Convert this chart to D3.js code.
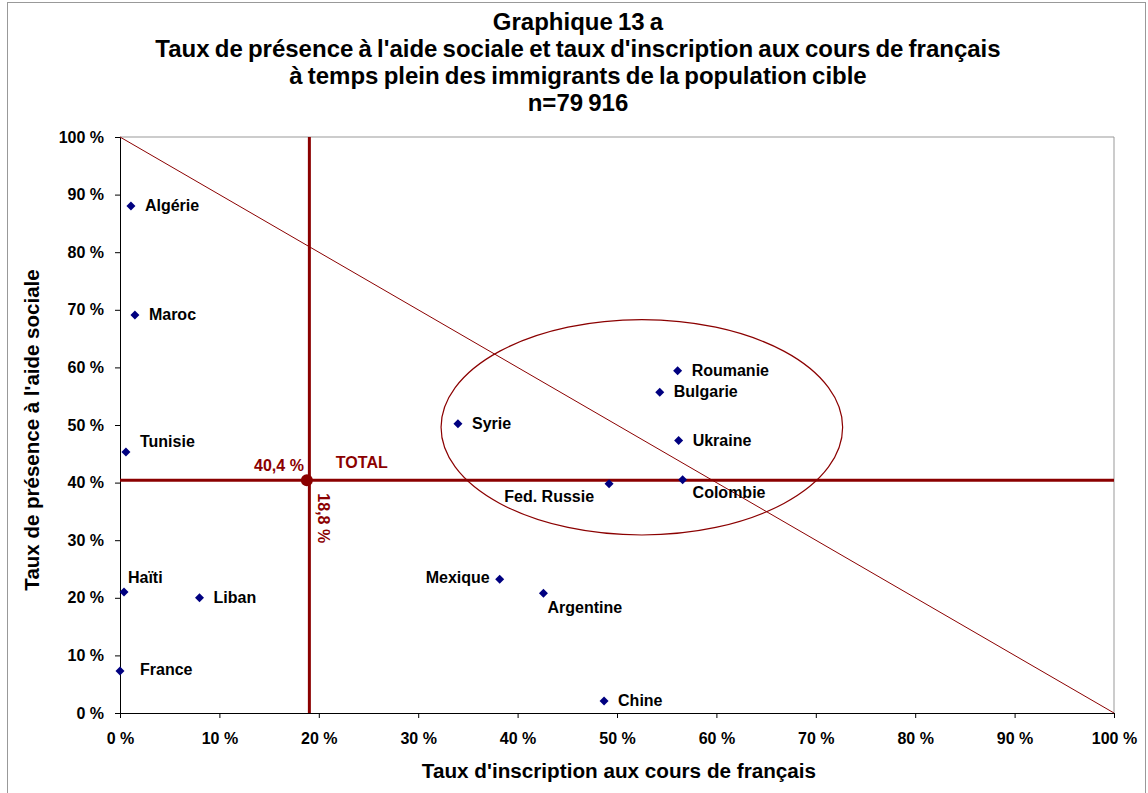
<!DOCTYPE html>
<html><head><meta charset="utf-8">
<script src="https://cdn.jsdelivr.net/npm/d3@7"></script>
<style>body{margin:0;background:#fff;}svg{display:block;font-family:"Liberation Sans",Arial,sans-serif;}</style>
</head><body>
<svg id="c" width="1148" height="793"></svg>
<script>
const countries = ["Algérie","Maroc","Tunisie","Haïti","Liban","France","Syrie","Roumanie","Bulgarie","Ukraine","Fed. Russie","Colombie","Mexique","Argentine","Chine"];
const inscription = [1.1,1.5,0.6,0.4,8.0,0.0,34.0,56.1,54.3,56.2,49.2,56.6,38.2,42.6,48.7];
const aideSociale = [88.0,69.1,45.3,21.0,20.0,7.3,50.2,59.4,55.7,47.3,39.8,40.5,23.2,20.8,2.1];
const labelPos = ["right","right","aboveRight","above","right","rightFar","right","right","right","right","belowLeft","belowRight","left","below","right"];
const totalX = 18.8, totalY = 40.4;
const xTicks = [0,10,20,30,40,50,60,70,80,90,100];
const yTicks = [0,10,20,30,40,50,60,70,80,90,100];
const titleLines = ["Graphique 13 a","Taux de présence à l'aide sociale et taux d'inscription aux cours de français","à temps plein des immigrants de la population cible","n=79 916"];
const ellipseSpec = {cx:52.5, cy:49.6, rx:20.2, ry:18.7};

const svg = d3.select("#c");
const red = "#8B0000", navy = "#000080";
const L=120,R=1114,T=137,B=713;
const x = d3.scaleLinear().domain([0,100]).range([L,R]);
const y = d3.scaleLinear().domain([0,100]).range([B,T]);

// outer border
svg.append("rect").attr("x",7.5).attr("y",2.5).attr("width",1138).attr("height",800).attr("fill","none").attr("stroke","#999");

// title
svg.append("g").selectAll("text").data(titleLines).join("text")
  .attr("x",578).attr("y",(d,i)=>30+i*27).attr("text-anchor","middle")
  .attr("font-size",24).attr("font-weight","bold").attr("word-spacing","-1.5")
  .text(d=>d);

// plot border top/right
svg.append("path").attr("d",`M${L},${T}H${R}V${B}`).attr("fill","none").attr("stroke","#999");

// axes
const fmt = d=>d+" %";
const xa = svg.append("g").attr("transform",`translate(0,${B})`)
  .call(d3.axisBottom(x).tickValues(xTicks).tickFormat(fmt).tickSize(5).tickSizeOuter(0));
const ya = svg.append("g").attr("transform",`translate(${L},0)`)
  .call(d3.axisLeft(y).tickValues(yTicks).tickFormat(fmt).tickSize(5).tickSizeOuter(0));
[xa,ya].forEach(a=>{a.select(".domain").attr("stroke","#000");a.selectAll(".tick line").attr("stroke","#000");
  a.selectAll("text").attr("font-size",16).attr("font-weight","bold").attr("fill","#000").attr("font-family","Liberation Sans, Arial, sans-serif");});
xa.selectAll("text").attr("y",20).attr("dy","0.71em");
ya.selectAll("text").attr("x",-16);

// axis titles
svg.append("text").attr("x",619).attr("y",778).attr("text-anchor","middle").attr("font-size",20.7).attr("font-weight","bold").text("Taux d'inscription aux cours de français");
svg.append("text").attr("transform",`translate(39,${(T+B)/2+5}) rotate(-90)`).attr("text-anchor","middle").attr("font-size",20.5).attr("font-weight","bold").text("Taux de présence à l'aide sociale");

// diagonal
svg.append("line").attr("x1",x(0)).attr("y1",y(100)).attr("x2",x(100)).attr("y2",y(0)).attr("stroke",red).attr("stroke-width",1);

// ellipse
svg.append("ellipse").attr("cx",x(ellipseSpec.cx)).attr("cy",y(ellipseSpec.cy))
  .attr("rx",x(ellipseSpec.rx)-x(0)).attr("ry",y(0)-y(ellipseSpec.ry))
  .attr("fill","none").attr("stroke",red).attr("stroke-width",1.2);

// total lines
svg.append("line").attr("x1",x(0)).attr("x2",x(100)).attr("y1",y(totalY)).attr("y2",y(totalY)).attr("stroke",red).attr("stroke-width",3);
svg.append("line").attr("x1",x(totalX)+2.5).attr("x2",x(totalX)+2.5).attr("y1",y(100)).attr("y2",y(0)).attr("stroke",red).attr("stroke-width",3);
svg.append("circle").attr("cx",x(totalX)).attr("cy",y(totalY)).attr("r",6).attr("fill",red);
svg.append("text").attr("x",x(totalX)-3).attr("y",y(totalY)-9).attr("text-anchor","end").attr("font-size",16).attr("font-weight","bold").attr("fill",red).text(totalY.toString().replace(".",",")+" %");
svg.append("text").attr("x",x(totalX)+29).attr("y",y(totalY)-12).attr("font-size",16).attr("font-weight","bold").attr("fill",red).text("TOTAL");
svg.append("text").attr("transform",`translate(${x(totalX)+11},${y(totalY)+13}) rotate(90)`).attr("font-size",16).attr("font-weight","bold").attr("fill",red).text(totalX.toString().replace(".",",")+" %");

// points
const pts = countries.map((c,i)=>({c,x:inscription[i],y:aideSociale[i],p:labelPos[i]}));
svg.append("g").selectAll("path").data(pts).join("path")
  .attr("transform",d=>`translate(${x(d.x)},${y(d.y)})`)
  .attr("d","M0,-4.5L4.5,0L0,4.5L-4.5,0Z").attr("fill",navy);
const off = {right:[14,5,"start"],rightFar:[20,4,"start"],aboveRight:[14,-5,"start"],above:[4,-9,"start"],belowLeft:[-15,18,"end"],belowRight:[10,18,"start"],left:[-10,4,"end"],below:[4,20,"start"]};
svg.append("g").selectAll("text").data(pts).join("text")
  .attr("x",d=>x(d.x)+off[d.p][0]).attr("y",d=>y(d.y)+off[d.p][1]).attr("text-anchor",d=>off[d.p][2])
  .attr("font-size",16).attr("font-weight","bold").text(d=>d.c);
</script>
</body></html>
